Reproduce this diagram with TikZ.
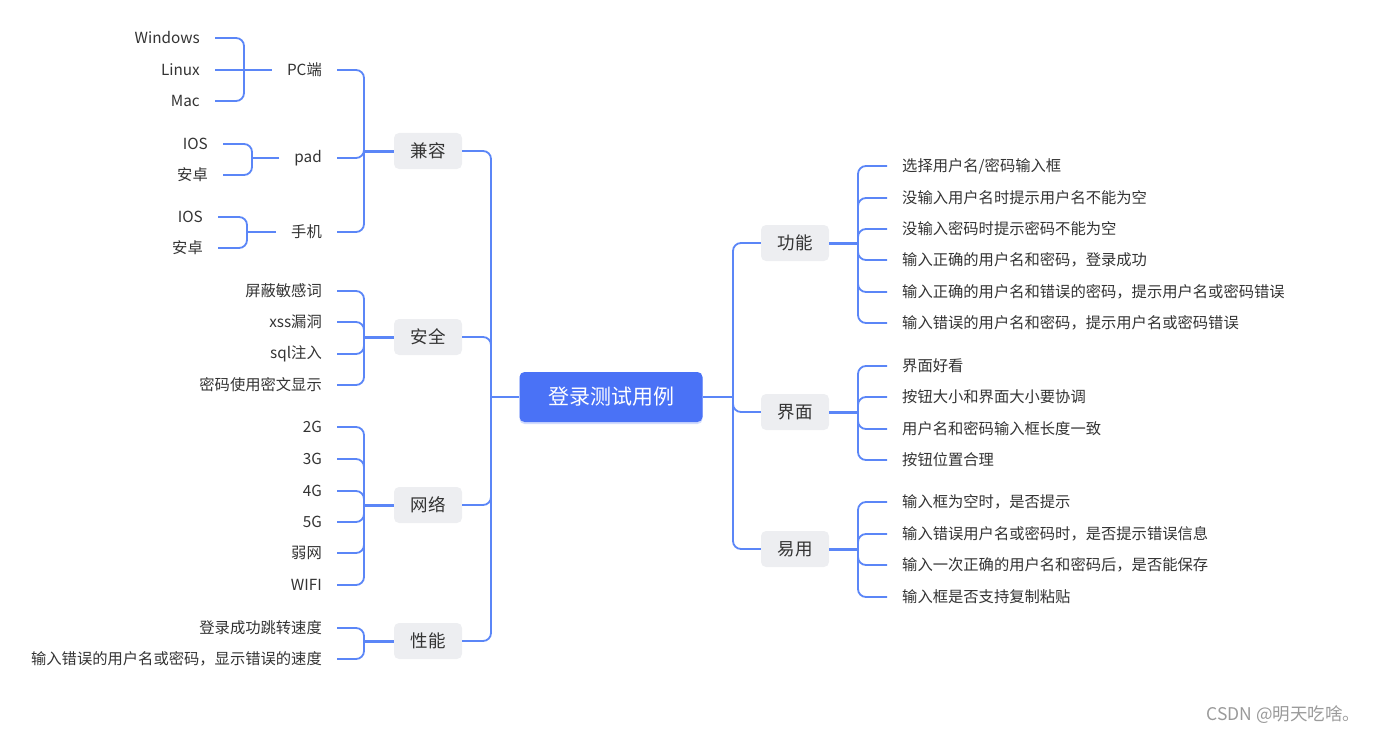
\documentclass[tikz,border=0pt]{standalone}
\usepackage{fontspec}
\setmainfont{Noto Sans CJK SC}
\usetikzlibrary{shadows}
\definecolor{lineblue}{HTML}{5B86F7}
\definecolor{rootblue}{HTML}{4A72F6}
\definecolor{catgray}{HTML}{EDEEF1}
\definecolor{txt}{HTML}{333333}
\definecolor{wmgray}{HTML}{9A9A9A}
\begin{document}
\begin{tikzpicture}[x=1pt,y=-1pt,
  root/.style={fill=rootblue, text=white, rounded corners=5pt, minimum width=183pt, minimum height=50pt,
    font=\fontsize{21}{25}\selectfont,
    drop shadow={shadow xshift=0pt, shadow yshift=-2pt, fill=rootblue, opacity=0.25}},
  cat/.style={fill=catgray, text=txt, rounded corners=5pt, minimum width=68pt, minimum height=36pt,
    font=\fontsize{17.5}{20}\selectfont},
  leaf/.style={text=txt, inner xsep=15pt, inner ysep=2pt, font=\fontsize{15.3}{18}\selectfont},
  link/.style={draw=lineblue, line width=1.8pt, rounded corners=8pt},
  stem/.style={draw=lineblue, line width=3pt},
  substem/.style={draw=lineblue, line width=2.4pt},
]
\path[use as bounding box] (0,0) rectangle (1375,733);

% root and categories
\node[root] (root) at (611,397) {登录测试用例};
\coordinate (lt) at (491,397);
\coordinate (rt) at (733,397);

\node[cat] (jr) at (428,151) {兼容};
\node[cat] (aq) at (428,337) {安全};
\node[cat] (wl) at (428,505) {网络};
\node[cat] (xn) at (428,641) {性能};
\node[cat] (gn) at (795,243) {功能};
\node[cat] (jm) at (795,412) {界面};
\node[cat] (yy) at (795,549) {易用};

\draw[link] (root.west) -- (lt);
\draw[link] (root.east) -- (rt);
\foreach \c in {jr,aq,wl,xn} \draw[link] (\c.east) -| (lt);
\foreach \c in {gn,jm,yy} \draw[link] (\c.west) -| (rt);

% 兼容
\coordinate (jrj) at (364,151);
\draw[stem] (jr.west) -- (jrj);
\node[leaf, anchor=east] (pc) at (337,70) {PC端};
\node[leaf, anchor=east] (pad) at (337,158) {pad};
\node[leaf, anchor=east] (sj) at (337,232) {手机};
\foreach \c in {pc,pad,sj} \draw[link] (\c.east) -| (jrj);

\coordinate (pcj) at (244,70);
\draw[substem] (pc.west) -- (pcj);
\node[leaf, anchor=east] (win) at (215,38) {Windows};
\node[leaf, anchor=east] (lin) at (215,70) {Linux};
\node[leaf, anchor=east] (mac) at (215,101) {Mac};
\foreach \c in {win,mac} \draw[link] (\c.east) -| (pcj);
\draw[link] (lin.east) -- (pcj);

\coordinate (padj) at (252,158);
\draw[substem] (pad.west) -- (padj);
\node[leaf, anchor=east] (pios) at (223,144) {IOS};
\node[leaf, anchor=east] (paz) at (223,175) {安卓};
\foreach \c in {pios,paz} \draw[link] (\c.east) -| (padj);

\coordinate (sjj) at (247,232);
\draw[substem] (sj.west) -- (sjj);
\node[leaf, anchor=east] (sios) at (218,217) {IOS};
\node[leaf, anchor=east] (saz) at (218,248) {安卓};
\foreach \c in {sios,saz} \draw[link] (\c.east) -| (sjj);

% 安全
\coordinate (aqj) at (364,337);
\draw[stem] (aq.west) -- (aqj);
\node[leaf, anchor=east] (a1) at (337,291) {屏蔽敏感词};
\node[leaf, anchor=east] (a2) at (337,322) {xss漏洞};
\node[leaf, anchor=east] (a3) at (337,354) {sql注入};
\node[leaf, anchor=east] (a4) at (337,385) {密码使用密文显示};
\foreach \c in {a1,a2,a3,a4} \draw[link] (\c.east) -| (aqj);

% 网络
\coordinate (wlj) at (364,505);
\draw[stem] (wl.west) -- (wlj);
\node[leaf, anchor=east] (n1) at (337,427) {2G};
\node[leaf, anchor=east] (n2) at (337,459) {3G};
\node[leaf, anchor=east] (n3) at (337,491) {4G};
\node[leaf, anchor=east] (n4) at (337,522) {5G};
\node[leaf, anchor=east] (n5) at (337,553) {弱网};
\node[leaf, anchor=east] (n6) at (337,585) {WIFI};
\foreach \c in {n1,n2,n3,n4,n5,n6} \draw[link] (\c.east) -| (wlj);

% 性能
\coordinate (xnj) at (364,641);
\draw[stem] (xn.west) -- (xnj);
\node[leaf, anchor=east] (x1) at (337,628) {登录成功跳转速度};
\node[leaf, anchor=east] (x2) at (337,659) {输入错误的用户名或密码，显示错误的速度};
\foreach \c in {x1,x2} \draw[link] (\c.east) -| (xnj);

% 功能
\coordinate (gnj) at (858,243);
\draw[stem] (gn.east) -- (gnj);
\node[leaf, anchor=west] (g1) at (887,166) {选择用户名/密码输入框};
\node[leaf, anchor=west] (g2) at (887,198) {没输入用户名时提示用户名不能为空};
\node[leaf, anchor=west] (g3) at (887,229) {没输入密码时提示密码不能为空};
\node[leaf, anchor=west] (g4) at (887,260) {输入正确的用户名和密码，登录成功};
\node[leaf, anchor=west] (g5) at (887,292) {输入正确的用户名和错误的密码，提示用户名或密码错误};
\node[leaf, anchor=west] (g6) at (887,323) {输入错误的用户名和密码，提示用户名或密码错误};
\foreach \c in {g1,g2,g3,g4,g5,g6} \draw[link] (\c.west) -| (gnj);

% 界面
\coordinate (jmj) at (858,412);
\draw[stem] (jm.east) -- (jmj);
\node[leaf, anchor=west] (j1) at (887,366) {界面好看};
\node[leaf, anchor=west] (j2) at (887,397) {按钮大小和界面大小要协调};
\node[leaf, anchor=west] (j3) at (887,429) {用户名和密码输入框长度一致};
\node[leaf, anchor=west] (j4) at (887,460) {按钮位置合理};
\foreach \c in {j1,j2,j3,j4} \draw[link] (\c.west) -| (jmj);

% 易用
\coordinate (yyj) at (858,549);
\draw[stem] (yy.east) -- (yyj);
\node[leaf, anchor=west] (y1) at (887,502) {输入框为空时，是否提示};
\node[leaf, anchor=west] (y2) at (887,534) {输入错误用户名或密码时，是否提示错误信息};
\node[leaf, anchor=west] (y3) at (887,565) {输入一次正确的用户名和密码后，是否能保存};
\node[leaf, anchor=west] (y4) at (887,597) {输入框是否支持复制粘贴};
\foreach \c in {y1,y2,y3,y4} \draw[link] (\c.west) -| (yyj);

% watermark
\node[anchor=east, text=wmgray, font=\fontsize{17.5}{20}\selectfont] (wm) at (1364,715) {CSDN @明天吃啥。};
\end{tikzpicture}
\end{document}
